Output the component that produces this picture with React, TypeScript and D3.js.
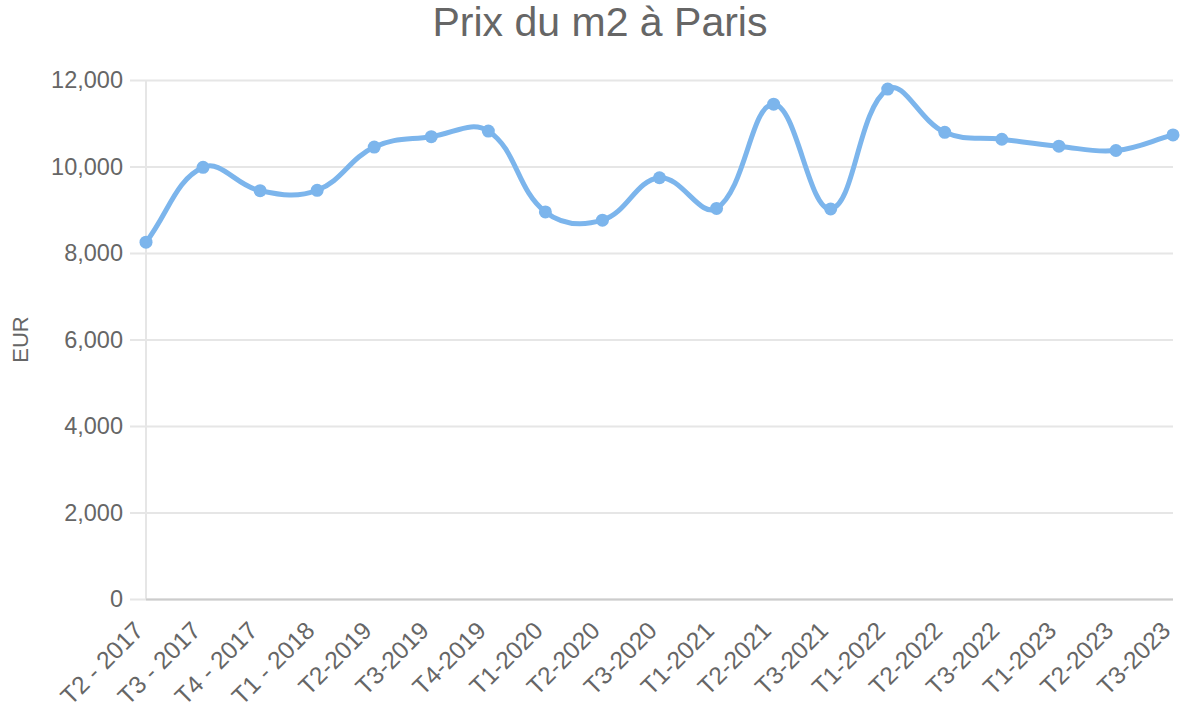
import React from "react";
import * as d3 from "d3";

const categories = [
  "T2 - 2017", "T3 - 2017", "T4 - 2017", "T1 - 2018", "T2-2019", "T3-2019", "T4-2019",
  "T1-2020", "T2-2020", "T3-2020", "T1-2021", "T2-2021", "T3-2021", "T1-2022",
  "T2-2022", "T3-2022", "T1-2023", "T2-2023", "T3-2023",
];
const prices = [
  8250, 9980, 9440, 9450, 10450, 10690, 10820,
  8950, 8760, 9740, 9030, 11440, 9020, 11790,
  10790, 10630, 10470, 10370, 10730,
];
const yTicks = [0, 2000, 4000, 6000, 8000, 10000, 12000];
const title = "Prix du m2 à Paris";
const yLabel = "EUR";

const W = 1200, H = 720;
const left = 146, right = 1173, top = 80, bottom = 599;
const FONT = "'Liberation Sans', Arial, Helvetica, sans-serif";
const TEXT = "#666666";
const LINE = "#7cb5ec";

function splinePath(pts: [number, number][], t: number): string {
  const p = d3.path();
  const cps = pts.map((cur, i) => {
    const prev = pts[Math.max(0, i - 1)];
    const next = pts[Math.min(pts.length - 1, i + 1)];
    const d01 = Math.hypot(cur[0] - prev[0], cur[1] - prev[1]);
    const d12 = Math.hypot(next[0] - cur[0], next[1] - cur[1]);
    let s01 = d01 / (d01 + d12);
    let s12 = d12 / (d01 + d12);
    if (!isFinite(s01)) s01 = 0;
    if (!isFinite(s12)) s12 = 0;
    const fa = t * s01, fb = t * s12;
    return {
      prev: [cur[0] - fa * (next[0] - prev[0]), cur[1] - fa * (next[1] - prev[1])],
      next: [cur[0] + fb * (next[0] - prev[0]), cur[1] + fb * (next[1] - prev[1])],
    };
  });
  p.moveTo(pts[0][0], pts[0][1]);
  for (let i = 1; i < pts.length; i++) {
    const a = cps[i - 1].next, b = cps[i].prev;
    p.bezierCurveTo(a[0], a[1], b[0], b[1], pts[i][0], pts[i][1]);
  }
  return p.toString();
}

export default function App() {
  const x = d3.scalePoint<string>().domain(categories).range([left, right]);
  const y = d3.scaleLinear().domain([0, 12000]).range([bottom, top]);
  const fmt = d3.format(",");
  const pts: [number, number][] = categories.map((c, i) => [x(c) as number, y(prices[i])]);

  return (
    <svg width={W} height={H} style={{ position: "absolute", left: 0, top: 0, background: "#fff" }} fontFamily={FONT}>
      <rect width={W} height={H} fill="#fff" />
      <text x={600} y={36} textAnchor="middle" fontSize={41} fill={TEXT}>{title}</text>
      {yTicks.map((t) => (
        <g key={t}>
          <line x1={130} x2={right} y1={y(t) + 0.5} y2={y(t) + 0.5}
            stroke="#e6e6e6" strokeWidth={2} />
          <text x={123} y={y(t)} dy="0.35em" textAnchor="end" fontSize={23.5} fill={TEXT}>{fmt(t)}</text>
        </g>
      ))}
      <line x1={left} x2={left} y1={top} y2={bottom} stroke="#e6e6e6" strokeWidth={2} />
      <line x1={left} x2={right} y1={bottom + 0.5} y2={bottom + 0.5} stroke="#cccccc" strokeWidth={2} />
      <text transform={`translate(28, ${(top + bottom) / 2}) rotate(-90)`} textAnchor="middle" fontSize={22} fill={TEXT}>{yLabel}</text>
      {categories.map((c) => (
        <text key={c} transform={`translate(${(x(c) as number) - 1}, 632) rotate(-45)`} textAnchor="end" fontSize={24.5} fill={TEXT}>{c}</text>
      ))}
      <path d={splinePath(pts, 0.4)} fill="none" stroke={LINE} strokeWidth={5} />
      {pts.map((p, i) => (
        <circle key={i} cx={p[0]} cy={p[1]} r={6.5} fill={LINE} />
      ))}
    </svg>
  );
}
